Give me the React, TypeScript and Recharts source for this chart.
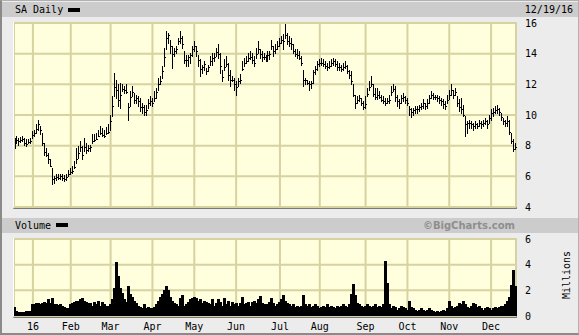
import { ComposedChart, Bar, XAxis, YAxis, CartesianGrid } from 'recharts'

// month gridlines sit on the first trading day of each month (index into the daily arrays)
const MONTH_LABELS = ['16', 'Feb', 'Mar', 'Apr', 'May', 'Jun', 'Jul', 'Aug', 'Sep', 'Oct', 'Nov', 'Dec']
const MONTH_START = [9, 28, 48, 69, 90, 111, 133, 153, 176, 197, 218, 239]
const PRICE_TICKS = [4, 6, 8, 10, 12, 14, 16]
const VOLUME_TICKS = [0, 2, 4, 6]

// daily high / low / close, Dec 18 2015 -> Dec 19 2016
const HIGH = [
  // Dec 15
  8.48, 8.59, 8.48, 8.55, 8.59, 8.48, 8.37, 8.41, 8.48,
  // Jan
  8.91, 9.02, 9.35, 9.67, 9.24, 8.8, 8.15, 7.83, 7.5, 7.07, 6.5, 5.98, 6.09, 6.09, 6.15, 6.09, 6.03, 6.09, 6.41,
  // Feb
  6.52, 6.63, 6.96, 7.83, 7.94, 8.26, 7.94, 8.48, 8.15, 8.04, 8.04, 8.7, 8.7, 8.8, 9.02, 9.24, 9.13, 9.02, 9.2, 9.35,
  // Mar
  10.0, 11.2, 12.72, 12.28, 11.96, 12.07, 11.96, 11.85, 11.96, 10.76, 11.52, 11.85, 11.41, 11.3, 11.2, 11.09, 10.76, 10.65, 10.65, 10.98, 11.2,
  // Apr
  11.09, 11.52, 11.74, 12.39, 12.5, 13.15, 14.35, 15.43, 15.33, 14.89, 14.46, 14.35, 14.46, 15.0, 15.47, 15.11, 14.13, 13.91, 13.91, 14.02, 14.46,
  // May
  14.78, 14.46, 13.91, 13.59, 13.26, 13.48, 13.04, 13.26, 13.8, 14.02, 14.02, 14.35, 14.57, 14.02, 12.93, 13.59, 13.8, 13.37, 12.93, 12.5, 12.39,
  // Jun
  12.17, 12.39, 12.61, 13.48, 13.7, 13.8, 14.02, 14.13, 14.02, 13.8, 14.35, 14.78, 14.24, 14.13, 14.02, 13.91, 14.13, 14.13, 14.89, 14.46, 14.57, 14.78,
  // Jul
  15.0, 15.11, 15.22, 15.87, 15.33, 15.11, 15.0, 14.57, 14.24, 14.24, 14.13, 13.8, 12.93, 12.39, 12.28, 12.17, 12.17, 12.93, 13.15, 13.48,
  // Aug
  13.59, 13.7, 13.59, 13.48, 13.37, 13.48, 13.59, 13.7, 13.59, 13.48, 13.37, 13.26, 13.37, 13.48, 13.26, 12.93, 12.83, 11.96, 11.3, 11.2, 11.3, 11.09, 10.87,
  // Sep
  11.2, 11.74, 12.17, 12.5, 11.96, 11.74, 11.74, 11.52, 11.3, 11.2, 11.09, 11.09, 11.3, 11.85, 11.96, 11.85, 11.3, 10.98, 11.3, 11.41, 11.2,
  // Oct
  11.09, 10.54, 10.44, 10.44, 10.54, 10.54, 10.65, 10.76, 10.98, 10.76, 10.98, 11.3, 11.52, 11.41, 11.3, 11.3, 11.2, 11.09, 10.98, 10.87, 11.3,
  // Nov
  11.63, 12.02, 11.63, 11.74, 11.2, 10.98, 11.09, 10.65, 9.89, 9.57, 9.67, 9.57, 9.46, 9.57, 9.46, 9.67, 9.57, 9.67, 9.78, 9.67, 10.0,
  // Dec
  10.33, 10.44, 10.54, 10.6, 10.44, 10.11, 9.78, 9.67, 9.89, 9.67, 8.8, 8.37, 8.15,
]

const LOW = [
  7.83, 8.11, 8.04, 8.2, 8.26, 7.98, 7.94, 8.11, 8.15,
  8.48, 8.59, 8.8, 9.02, 8.7, 8.04, 7.39, 7.28, 6.85, 6.63, 5.44, 5.55, 5.76, 5.8, 5.8, 5.76, 5.65, 5.76, 5.98,
  6.09, 6.2, 6.52, 6.85, 7.17, 7.61, 7.07, 7.61, 7.5, 7.61, 7.61, 8.15, 8.26, 8.37, 8.59, 8.7, 8.59, 8.55, 8.7, 8.8,
  9.02, 9.89, 11.2, 11.09, 10.54, 10.44, 11.52, 11.41, 11.41, 9.67, 10.54, 11.2, 10.76, 10.76, 10.54, 10.22, 10.11, 10.0, 10.0, 10.44, 10.65,
  10.54, 10.87, 11.09, 11.63, 11.96, 12.39, 13.15, 14.24, 14.67, 14.02, 13.04, 13.8, 14.02, 14.57, 14.67, 14.35, 13.37, 13.15, 13.15, 13.37, 13.8,
  14.13, 13.8, 13.15, 12.5, 12.72, 12.93, 12.61, 12.83, 13.26, 13.26, 13.48, 13.8, 13.7, 12.72, 12.17, 12.93, 13.15, 12.28, 11.85, 12.17, 11.63,
  11.3, 11.85, 12.07, 12.93, 13.15, 13.37, 13.48, 13.59, 13.37, 13.15, 13.7, 14.02, 13.7, 13.48, 13.59, 13.48, 13.48, 13.59, 14.24, 13.8, 14.02, 14.24,
  14.46, 14.67, 14.24, 15.0, 14.57, 14.46, 14.24, 14.02, 13.8, 13.7, 13.59, 13.26, 11.85, 11.96, 11.96, 11.63, 11.74, 12.07, 12.61, 12.93,
  13.15, 13.26, 13.15, 13.04, 12.93, 13.04, 13.15, 13.26, 13.15, 12.93, 12.93, 12.83, 12.93, 13.04, 12.72, 12.39, 11.96, 11.2, 10.44, 10.76, 10.87, 10.65, 10.33,
  10.44, 11.2, 11.63, 11.85, 11.2, 10.98, 10.98, 11.09, 10.87, 10.76, 10.65, 10.76, 10.76, 11.3, 11.52, 10.87, 10.54, 10.44, 10.76, 10.87, 10.76,
  10.65, 10.0, 9.85, 10.0, 10.11, 10.11, 10.22, 10.33, 10.44, 10.33, 10.44, 10.76, 11.09, 10.98, 10.98, 10.87, 10.76, 10.65, 10.44, 10.33, 10.76,
  10.98, 11.3, 11.09, 11.3, 10.54, 10.22, 10.11, 9.89, 8.59, 8.8, 9.13, 9.13, 9.02, 9.13, 9.13, 9.24, 9.13, 9.24, 9.35, 9.13, 9.46,
  9.67, 9.89, 10.11, 10.11, 10.0, 9.67, 9.35, 9.24, 9.24, 8.7, 8.15, 7.61, 7.72,
]

const CLOSE = [
  8.15, 8.4, 8.3, 8.4, 8.45, 8.2, 8.1, 8.25, 8.3,
  8.7, 8.8, 9.1, 9.4, 9.0, 8.2, 7.6, 7.4, 7.1, 6.7, 5.8, 5.9, 5.95, 5.9, 6.0, 5.9, 5.85, 5.95, 6.15,
  6.25, 6.35, 6.6, 7.1, 7.5, 7.9, 7.4, 7.9, 7.7, 7.85, 7.9, 8.3, 8.4, 8.45, 8.6, 8.8, 8.7, 8.6, 8.8, 8.9,
  9.6, 10.6, 11.8, 11.6, 11.0, 11.3, 11.7, 11.6, 11.5, 10.5, 11.2, 11.5, 11.0, 11.1, 10.9, 10.5, 10.5, 10.2, 10.3, 10.8, 10.9,
  10.8, 11.1, 11.5, 12.0, 12.2, 12.9, 13.8, 15.0, 15.2, 14.5, 14.0, 14.2, 14.3, 14.8, 15.0, 14.6, 13.6, 13.6, 13.8, 13.9, 14.3,
  14.5, 14.2, 13.6, 13.0, 13.1, 13.3, 12.9, 13.1, 13.5, 13.7, 13.8, 14.1, 14.0, 13.2, 12.5, 13.1, 13.3, 12.6, 12.3, 12.3, 12.0,
  11.8, 12.2, 12.3, 13.0, 13.4, 13.5, 13.7, 13.8, 13.6, 13.4, 14.0, 14.3, 14.0, 13.8, 13.8, 13.6, 13.9, 14.0, 14.5, 14.2, 14.3, 14.5,
  14.7, 14.9, 14.8, 15.2, 14.8, 14.7, 14.6, 14.2, 14.0, 13.9, 13.7, 13.4, 12.3, 12.3, 12.1, 12.0, 12.1, 12.8, 13.0, 13.3,
  13.4, 13.4, 13.3, 13.2, 13.1, 13.2, 13.4, 13.5, 13.3, 13.1, 13.1, 13.0, 13.1, 13.2, 12.9, 12.6, 12.2, 11.3, 10.8, 11.0, 11.1, 10.8, 10.5,
  10.7, 11.4, 11.8, 12.0, 11.4, 11.2, 11.3, 11.2, 11.0, 10.9, 10.8, 10.9, 11.0, 11.5, 11.7, 11.2, 10.9, 10.8, 11.1, 11.2, 11.0,
  10.8, 10.4, 10.2, 10.3, 10.4, 10.4, 10.5, 10.6, 10.8, 10.6, 10.8, 11.1, 11.3, 11.2, 11.2, 11.1, 11.0, 10.9, 10.7, 10.6, 11.0,
  11.3, 11.6, 11.3, 11.5, 10.8, 10.5, 10.4, 10.0, 9.4, 9.5, 9.5, 9.4, 9.3, 9.4, 9.3, 9.5, 9.4, 9.5, 9.6, 9.4, 9.8,
  10.1, 10.2, 10.3, 10.4, 10.2, 9.9, 9.6, 9.5, 9.6, 8.9, 8.3, 7.8, 7.9,
]

// daily volume, millions
const VOLUME = [
  0.7, 0.4, 0.35, 0.35, 0.35, 0.35, 0.4, 0.4, 0.4,
  0.9, 0.95, 1.0, 1.05, 0.9, 1.0, 1.1, 1.0, 1.3, 1.05, 1.4, 0.95, 0.9, 0.85, 0.9, 0.8, 0.7, 0.6, 0.6,
  0.9, 1.0, 1.1, 1.2, 1.15, 1.3, 1.4, 1.2, 1.1, 1.0, 1.0, 0.8, 1.1, 0.9, 1.2, 0.8, 1.1, 0.9, 0.8, 0.8,
  0.9, 1.3, 2.2, 4.2, 3.1, 2.2, 1.8, 1.3, 1.1, 2.3, 1.7, 1.5, 1.2, 1.0, 0.8, 0.7, 0.6, 0.9, 0.6, 0.7, 0.6,
  0.65, 0.7, 0.9, 1.2, 1.5, 1.7, 2.0, 2.3, 2.0, 1.5, 1.2, 1.0, 0.9, 0.8, 1.4, 1.65, 0.8, 0.9, 1.1, 1.3, 1.4,
  1.5, 1.4, 1.2, 1.3, 1.0, 1.2, 1.1, 1.0, 0.9, 1.3, 0.8, 1.0, 1.3, 1.1, 0.8, 1.4, 0.9, 1.2, 0.8, 1.1, 0.9,
  1.0, 0.8, 1.0, 1.45, 0.9, 1.0, 1.1, 0.8, 1.1, 1.2, 1.0, 1.3, 1.55, 1.0, 0.9, 0.8, 0.9, 1.1, 1.4, 1.0, 0.8, 0.9,
  1.1, 1.3, 1.65, 1.2, 1.0, 0.9, 0.8, 0.9, 0.7, 0.8, 0.7, 0.8, 1.65, 0.9, 0.8, 0.9, 0.7, 0.8, 0.9, 0.8,
  0.6, 0.7, 0.8, 0.7, 0.9, 0.7, 0.8, 0.7, 0.6, 0.8, 0.7, 0.8, 0.9, 0.8, 0.7, 0.9, 1.7, 2.5, 1.6, 1.0, 0.9, 0.8, 0.7,
  0.8, 0.9, 0.8, 0.7, 0.8, 0.9, 0.7, 0.8, 0.7, 0.9, 4.3, 2.6, 0.9, 0.6, 0.8, 0.7, 0.5, 0.6, 0.8, 0.7, 0.6,
  0.5, 1.2, 0.7, 0.6, 0.5, 0.4, 0.5, 0.6, 0.5, 0.4, 0.5, 0.6, 0.5, 0.4, 0.3, 0.4, 0.3, 0.4, 0.5, 0.4, 0.6,
  1.2, 0.8, 0.6, 0.7, 0.8, 1.0, 0.9, 1.2, 0.9, 0.7, 0.6, 0.8, 1.0, 0.9, 0.7, 0.8, 0.6, 0.5, 0.6, 0.7, 0.6,
  0.5, 0.6, 0.7, 0.6, 0.7, 0.8, 0.8, 0.9, 1.2, 1.5, 2.4, 3.6, 2.3,
]

const data = CLOSE.map((close, i) => ({
  i,
  high: HIGH[i],
  low: LOW[i],
  close,
  range: [LOW[i], HIGH[i]],
  volume: VOLUME[i],
}))

const MONO = '"DejaVu Sans Mono", monospace'
const GRID = '#d6d3a0'
const PLOT_BG = '#fffedd'
const BAND = '#cccccc'

const tickStyle = { fontSize: 10, fontFamily: MONO, fill: '#000' }

// high-low-close bar: vertical range line with the close tick to the right
function HlcBar(props: any) {
  const { x, y, width, height, payload } = props
  if (x == null || payload == null) return null
  const top = Math.min(y, y + height)
  const h = Math.abs(height)
  const cx = Math.floor(x + width / 2) + 0.5
  const span = payload.high - payload.low
  const cy = span > 0 ? top + ((payload.high - payload.close) / span) * h : top
  const ty = Math.round(cy) + 0.5
  return (
    <g shapeRendering="crispEdges">
      <line x1={cx} x2={cx} y1={top - 0.5} y2={top + h + 0.5} stroke="#000" strokeWidth={1} />
      <line x1={cx} x2={cx + 1.5} y1={ty} y2={ty} stroke="#000" strokeWidth={1} />
    </g>
  )
}

// solid volume column, snapped to whole pixels so neighbours touch
function VolumeBar(props: any) {
  const { x, y, width, height } = props
  if (x == null || !(height > 0)) return null
  const x0 = Math.floor(x)
  const x1 = Math.ceil(x + width)
  const y0 = Math.round(y)
  return <rect x={x0} y={y0} width={x1 - x0} height={Math.round(y + height) - y0} fill="#000" shapeRendering="crispEdges" />
}

function Legend({ left, top }: { left: number; top: number }) {
  return <div style={{ position: 'absolute', left, top, width: 12, height: 4, background: '#000' }} />
}

function Frame({ left, top, width, height }: { left: number; top: number; width: number; height: number }) {
  return (
    <div
      style={{
        position: 'absolute',
        left,
        top,
        width,
        height,
        borderTop: '1px solid #fff',
        borderLeft: '1px solid #fff',
        borderRight: '1px solid #9a9a9a',
        borderBottom: '2px solid #7a7a7a',
      }}
    />
  )
}

export default function App() {
  return (
    <div
      style={{
        position: 'absolute',
        left: 0,
        top: 0,
        width: 579,
        height: 335,
        boxSizing: 'border-box',
        background: '#ececec',
        borderLeft: '2px solid #8a8a8a',
        borderBottom: '2px solid #8a8a8a',
        borderTop: '1px solid #b0b0b0',
        borderRight: '1px solid #b0b0b0',
        fontFamily: MONO,
        fontSize: 10,
        color: '#000',
        overflow: 'hidden',
      }}
    >
      {/* price header */}
      <div style={{ position: 'absolute', left: 0, top: 1, width: 577, height: 15, background: BAND }} />
      <div style={{ position: 'absolute', left: 13, top: 1, lineHeight: '15px', whiteSpace: 'nowrap' }}>SA Daily</div>
      <Legend left={66} top={7} />
      <div style={{ position: 'absolute', right: 5, top: 1, lineHeight: '15px', whiteSpace: 'nowrap' }}>12/19/16</div>

      {/* price panel */}
      <Frame left={11} top={21} width={502} height={184} />
      <div style={{ position: 'absolute', left: 12, top: 16 }}>
        <ComposedChart
          width={565}
          height={196}
          data={data}
          margin={{ top: 6, right: 0, bottom: 6, left: 0 }}
          barCategoryGap={0}
        >
          <CartesianGrid stroke={GRID} strokeWidth={2} fill={PLOT_BG} fillOpacity={1} />
          <XAxis dataKey="i" type="category" hide ticks={MONTH_START} interval={0} />
          <YAxis
            orientation="right"
            width={63}
            domain={[4, 16]}
            ticks={PRICE_TICKS}
            interval={0}
            tick={tickStyle}
            tickLine={false}
            axisLine={false}
            tickMargin={3}
          />
          <Bar dataKey="range" shape={<HlcBar />} isAnimationActive={false} />
        </ComposedChart>
      </div>

      {/* volume header */}
      <div style={{ position: 'absolute', left: 0, top: 217, width: 577, height: 15, background: BAND }} />
      <div style={{ position: 'absolute', left: 13, top: 217, lineHeight: '15px', whiteSpace: 'nowrap' }}>Volume</div>
      <Legend left={54} top={222} />
      <div
        style={{
          position: 'absolute',
          right: 63,
          top: 217,
          lineHeight: '15px',
          whiteSpace: 'nowrap',
          fontFamily: '"DejaVu Sans", sans-serif',
          fontWeight: 'bold',
          fontSize: 10,
          color: '#8e8e8e',
        }}
      >
        ©BigCharts.com
      </div>

      {/* volume panel */}
      <Frame left={11} top={237} width={502} height={77} />
      <div style={{ position: 'absolute', left: 12, top: 232 }}>
        <ComposedChart
          width={565}
          height={99}
          data={data}
          margin={{ top: 6, right: 0, bottom: 0, left: 0 }}
          barCategoryGap={0}
        >
          <CartesianGrid stroke={GRID} strokeWidth={2} fill={PLOT_BG} fillOpacity={1} />
          <XAxis
            dataKey="i"
            type="category"
            ticks={MONTH_START}
            interval={0}
            height={16}
            tick={tickStyle}
            tickLine={false}
            axisLine={false}
            tickSize={5}
            tickFormatter={(v: number) => MONTH_LABELS[MONTH_START.indexOf(v)] ?? ''}
          />
          <YAxis
            orientation="right"
            width={63}
            domain={[0, 6]}
            ticks={VOLUME_TICKS}
            interval={0}
            tick={tickStyle}
            tickLine={false}
            axisLine={false}
            tickMargin={3}
          />
          <Bar dataKey="volume" shape={<VolumeBar />} isAnimationActive={false} />
        </ComposedChart>
      </div>

      <div
        style={{
          position: 'absolute',
          left: 564,
          top: 274,
          transform: 'translate(-50%, -50%) rotate(-90deg)',
          whiteSpace: 'nowrap',
        }}
      >
        Millions
      </div>
    </div>
  )
}
